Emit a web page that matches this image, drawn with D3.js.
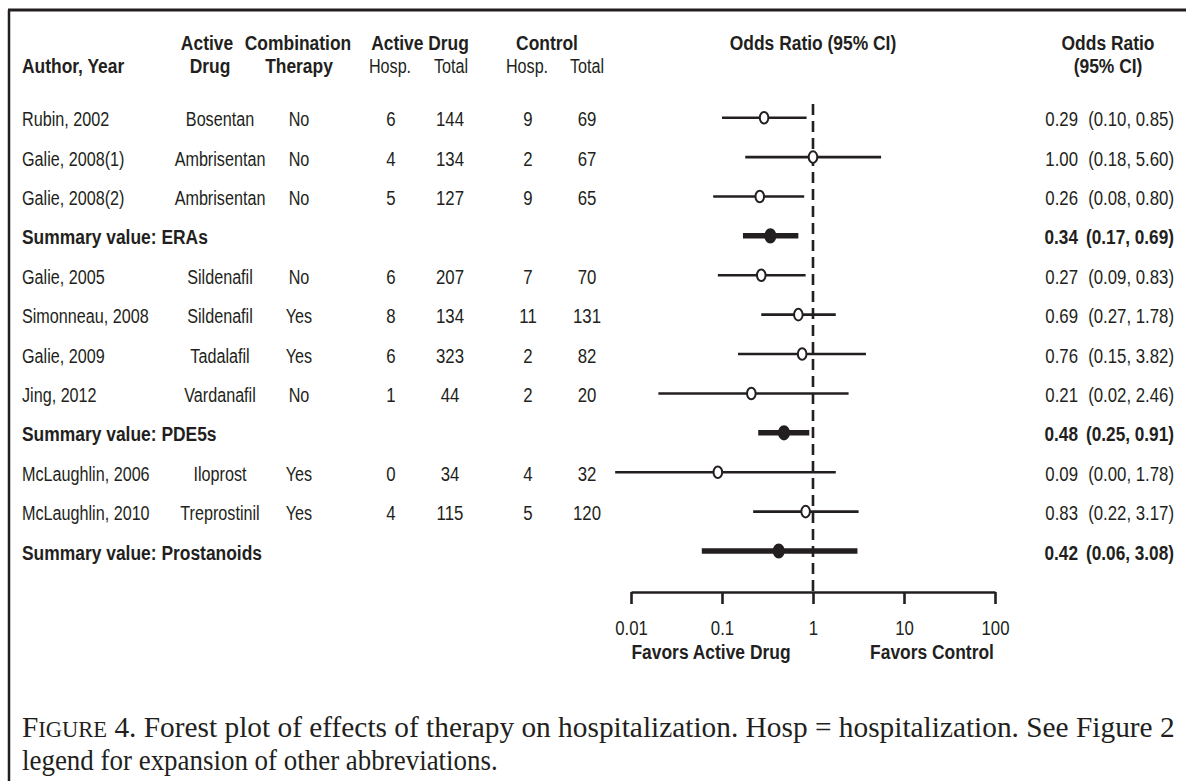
<!DOCTYPE html>
<html>
<head>
<meta charset="utf-8">
<script src="https://cdn.jsdelivr.net/npm/d3@7"></script>
<style>
  body { margin: 0; background: #fff; }
  svg { display: block; }
</style>
</head>
<body>
<svg id="chart" width="1186" height="781"></svg>
<script>
// ---- data ----------------------------------------------------------------
const rowLabels = [
  "Rubin, 2002", "Galie, 2008(1)", "Galie, 2008(2)", "Summary value: ERAs",
  "Galie, 2005", "Simonneau, 2008", "Galie, 2009", "Jing, 2012", "Summary value: PDE5s",
  "McLaughlin, 2006", "McLaughlin, 2010", "Summary value: Prostanoids"
];
const isSummary    = [false, false, false, true, false, false, false, false, true, false, false, true];
const activeDrug   = ["Bosentan", "Ambrisentan", "Ambrisentan", "", "Sildenafil", "Sildenafil", "Tadalafil", "Vardanafil", "", "Iloprost", "Treprostinil", ""];
const combination  = ["No", "No", "No", "", "No", "Yes", "Yes", "No", "", "Yes", "Yes", ""];
const activeHosp   = [6, 4, 5, null, 6, 8, 6, 1, null, 0, 4, null];
const activeTotal  = [144, 134, 127, null, 207, 134, 323, 44, null, 34, 115, null];
const controlHosp  = [9, 2, 9, null, 7, 11, 2, 2, null, 4, 5, null];
const controlTotal = [69, 67, 65, null, 70, 131, 82, 20, null, 32, 120, null];
const oddsRatio    = [0.29, 1.00, 0.26, 0.34, 0.27, 0.69, 0.76, 0.21, 0.48, 0.09, 0.83, 0.42];
const ciLower      = [0.10, 0.18, 0.08, 0.17, 0.09, 0.27, 0.15, 0.02, 0.25, 0.00, 0.22, 0.06];
const ciUpper      = [0.85, 5.60, 0.80, 0.69, 0.83, 1.78, 3.82, 2.46, 0.91, 1.78, 3.17, 3.08];
const axisTicks      = [0.01, 0.1, 1, 10, 100];
const axisTickLabels = ["0.01", "0.1", "1", "10", "100"];
// a bound reported as 0.00 cannot sit on a log axis; it is drawn out to this floor
const logFloor = 0.0067;

const fmt2 = d3.format(".2f");

// ---- setup ---------------------------------------------------------------
const svg = d3.select("#chart");
const SANS = "'Liberation Sans',Arial,sans-serif";
const SERIF = "'Liberation Serif','DejaVu Serif',serif";
const INK = "#231f20";
// condensed look: sans glyphs squeezed horizontally
const SX_REG = 0.77, SX_BOLD = 0.83, SX_NUM = 0.8;

// places a text at (x, y) with a horizontal squeeze
function putText(parent, t, x, y, opts = {}) {
  const bold = !!opts.bold;
  return parent.append("text")
    .attr("transform", `translate(${x},${y}) scale(${opts.sx || (bold ? SX_BOLD : SX_REG)},1)`)
    .attr("text-anchor", opts.anchor || "start")
    .attr("font-family", SANS)
    .attr("font-size", opts.size || 21)
    .attr("font-weight", bold ? "bold" : "normal")
    .attr("fill", INK)
    .text(t);
}

const x = d3.scaleLog().domain([0.01, 100]).range([631, 995]);
const y = d3.scalePoint().domain(d3.range(rowLabels.length)).range([117.7, 551]);
const axisY = 592;

// frame lines
svg.append("line").attr("x1", 8).attr("x2", 1186).attr("y1", 10).attr("y2", 10)
  .attr("stroke", INK).attr("stroke-width", 3);
svg.append("line").attr("x1", 9).attr("x2", 9).attr("y1", 10).attr("y2", 781)
  .attr("stroke", INK).attr("stroke-width", 2.5);

// ---- column headers ------------------------------------------------------
const head = svg.append("g");
[
  { t: "Active", x: 207, y: 50, b: true, a: "middle" },
  { t: "Combination", x: 298, y: 50, b: true, a: "middle" },
  { t: "Active Drug", x: 420, y: 50, b: true, a: "middle" },
  { t: "Control", x: 547, y: 50, b: true, a: "middle" },
  { t: "Odds Ratio (95% CI)", x: 813, y: 50, b: true, a: "middle" },
  { t: "Odds Ratio", x: 1108, y: 50, b: true, a: "middle" },
  { t: "Author, Year", x: 22, y: 73, b: true, a: "start" },
  { t: "Drug", x: 210, y: 73, b: true, a: "middle" },
  { t: "Therapy", x: 299, y: 73, b: true, a: "middle" },
  { t: "Hosp.", x: 390, y: 73, b: false, a: "middle" },
  { t: "Total", x: 451, y: 73, b: false, a: "middle" },
  { t: "Hosp.", x: 527, y: 73, b: false, a: "middle" },
  { t: "Total", x: 587, y: 73, b: false, a: "middle" },
  { t: "(95% CI)", x: 1108, y: 73, b: true, a: "middle" }
].forEach(d => putText(head, d.t, d.x, d.y, { bold: d.b, anchor: d.a }));

// ---- table rows ----------------------------------------------------------
const rows = svg.append("g");
const idx = d3.range(rowLabels.length);
const base = i => y(i) + 8.5;

idx.forEach(i => putText(rows, rowLabels[i], 22, base(i), { bold: isSummary[i] }));

const cols = [
  { values: activeDrug, x: 220 },
  { values: combination, x: 299 },
  { values: activeHosp, x: 391, sx: SX_NUM },
  { values: activeTotal, x: 450, sx: SX_NUM },
  { values: controlHosp, x: 528, sx: SX_NUM },
  { values: controlTotal, x: 587, sx: SX_NUM }
];
cols.forEach(c => {
  idx.filter(i => c.values[i] !== null && c.values[i] !== "")
    .forEach(i => putText(rows, String(c.values[i]), c.x, base(i), { anchor: "middle", sx: c.sx }));
});

// odds ratio column on the right
idx.forEach(i => {
  const b = isSummary[i];
  putText(rows, fmt2(oddsRatio[i]), 1078, base(i), { anchor: "end", bold: b, sx: b ? 0.82 : SX_NUM });
  putText(rows, `(${fmt2(ciLower[i])}, ${fmt2(ciUpper[i])})`, 1174, base(i),
    { anchor: "end", bold: b, sx: b ? 0.82 : SX_NUM });
});

// ---- forest plot ---------------------------------------------------------
const plot = svg.append("g");

// line of no effect
plot.append("line")
  .attr("x1", x(1)).attr("x2", x(1)).attr("y1", 104).attr("y2", axisY)
  .attr("stroke", INK).attr("stroke-width", 2.6).attr("stroke-dasharray", "11,6");

// confidence intervals
plot.selectAll("line.ci").data(idx).join("line").attr("class", "ci")
  .attr("x1", i => x(Math.max(ciLower[i], logFloor)))
  .attr("x2", i => x(ciUpper[i]))
  .attr("y1", i => y(i)).attr("y2", i => y(i))
  .attr("stroke", INK)
  .attr("stroke-width", i => isSummary[i] ? 5.5 : 2.6);

// point estimates: open for studies, filled for pooled values
plot.selectAll("ellipse.pt").data(idx).join("ellipse").attr("class", "pt")
  .attr("cx", i => x(oddsRatio[i])).attr("cy", i => y(i))
  .attr("rx", i => isSummary[i] ? 5 : 4.3)
  .attr("ry", i => isSummary[i] ? 6.6 : 5.8)
  .attr("fill", i => isSummary[i] ? INK : "#fff")
  .attr("stroke", INK).attr("stroke-width", 2);

// axis
const axis = d3.axisBottom(x)
  .tickValues(axisTicks)
  .tickFormat((d, i) => axisTickLabels[i])
  .tickSize(12).tickSizeOuter(0).tickPadding(16);
const ax = svg.append("g").attr("transform", `translate(0,${axisY})`).call(axis);
ax.select(".domain").attr("stroke", INK).attr("stroke-width", 2.6);
ax.selectAll(".tick line").attr("stroke", INK).attr("stroke-width", 2.6);
ax.selectAll(".tick text")
  .attr("font-family", SANS).attr("font-size", 21).attr("fill", INK)
  .attr("transform", "scale(0.8,1)")
  .attr("x", function () { return 0; });

const notes = svg.append("g");
putText(notes, "Favors Active Drug", 711, 659, { bold: true, anchor: "middle" });
putText(notes, "Favors Control", 932, 659, { bold: true, anchor: "middle" });

// ---- caption -------------------------------------------------------------
const cap = svg.append("g").attr("font-family", SERIF).attr("font-size", 30).attr("fill", INK);
function fitCaption(textSel, x0, y0, width) {
  const natural = textSel.node().getComputedTextLength();
  textSel.attr("transform", `translate(${x0},${y0}) scale(${width / natural},1)`);
}
const line1 = cap.append("text");
line1.append("tspan").text("F");
line1.append("tspan").attr("font-size", 23).text("IGURE");
line1.append("tspan").text(" 4. Forest plot of effects of therapy on hospitalization. Hosp = hospitalization. See Figure 2");
fitCaption(line1, 22, 737, 1153);
const line2 = cap.append("text").text("legend for expansion of other abbreviations.");
fitCaption(line2, 22, 770, 476);
</script>
</body>
</html>
